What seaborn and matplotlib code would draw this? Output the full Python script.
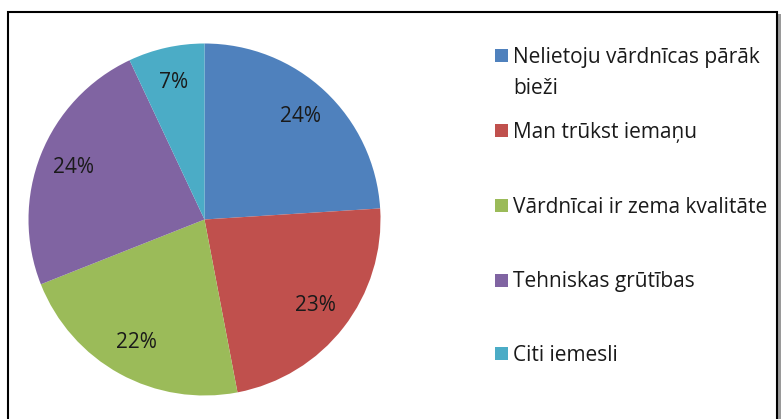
import matplotlib
matplotlib.use("Agg")
import matplotlib.pyplot as plt
import seaborn as sns
from matplotlib.patches import Rectangle

categories = ["Nelietoju vārdnīcas pārāk\nbieži", "Man trūkst iemaņu",
              "Vārdnīcai ir zema kvalitāte", "Tehniskas grūtības", "Citi iemesli"]
values = [24, 23, 22, 24, 7]
colors = ["#4F81BD", "#C0504D", "#9BBB59", "#8064A2", "#4BACC6"]

sns.set_theme(style="white")
plt.rcParams['font.family'] = ['Open Sans', 'DejaVu Sans']

W, H = 783, 419
fig = plt.figure(figsize=(W / 100, H / 100), dpi=100)
fig.patch.set_facecolor("white")

# pie axes
cx, cy, r = 204.5, 219.5, 176
ax = fig.add_axes([(cx - r) / W, (H - cy - r) / H, 2 * r / W, 2 * r / H])
wedges, texts, autotexts = ax.pie(
    values, colors=colors, startangle=90, counterclock=False,
    autopct=lambda p: f"{p:.0f}%", pctdistance=0.8, radius=1,
    wedgeprops=dict(linewidth=0),
    textprops=dict(fontsize=15, color="#1a1a1a"))
ax.set_xlim(-1, 1)
ax.set_ylim(-1, 1)
ax.set_aspect("equal")
ax.axis("off")

# legend (manual)
baselines = [62.5, 138, 212.5, 287.5, 360.5]
line_gap = 31.5
for lab, col, yb in zip(categories, colors, baselines):
    fig.patches.append(Rectangle((495 / W, 1 - (yb - 0.5) / H), 13 / W, 13 / H,
                                 transform=fig.transFigure, facecolor=col,
                                 edgecolor="none"))
    for i, line in enumerate(lab.split("\n")):
        fig.text(513 / W, 1 - (yb + i * line_gap) / H, line, fontsize=15,
                 color="#1a1a1a", va="baseline", ha="left")

# frame
fig.patches.append(Rectangle((778 / W, -0.1), 3 / W, 1 - 14 / H + 0.1,
                             transform=fig.transFigure, facecolor="#9a9a9a",
                             edgecolor="none", clip_on=False))
fig.patches.append(Rectangle((8 / W, -0.1), 769 / W, 1 - 12 / H + 0.1,
                             transform=fig.transFigure, facecolor="none",
                             edgecolor="black", linewidth=1.5, clip_on=False))

fig.savefig("out.png", dpi=100, facecolor="white")
